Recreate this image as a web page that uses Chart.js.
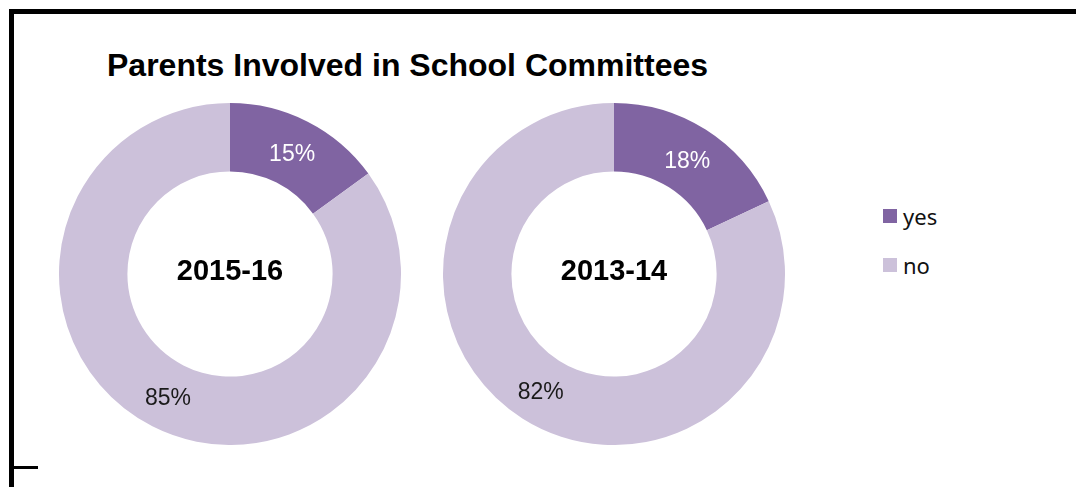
<!DOCTYPE html>
<html>
<head>
<meta charset="utf-8">
<script src="https://cdn.jsdelivr.net/npm/chart.js@4/dist/chart.umd.min.js"></script>
<style>
  html, body { margin: 0; padding: 0; background: #fff; }
  #stage { position: relative; width: 1076px; height: 487px; overflow: hidden; }
  .line { position: absolute; background: #000; }
  #title { position: absolute; left: 107px; top: 47px; font: bold 32px "Liberation Sans", Arial, sans-serif; color: #000; white-space: nowrap; }
  .donut { position: absolute; top: 103px; width: 342px; height: 342px; }
  #legend { position: absolute; left: 883px; top: 191px; font: 22px "Noto Sans", "Open Sans", sans-serif; color: #111; }
  #legend .item { display: flex; align-items: center; height: 49px; }
  #legend .sw { width: 14px; height: 14px; margin-right: 6px; }
</style>
</head>
<body>
<div id="stage">
  <div class="line" style="left:9px; top:9px; width:1067px; height:5px;"></div>
  <div class="line" style="left:9px; top:9px; width:5px; height:478px;"></div>
  <div class="line" style="left:14px; top:466px; width:24px; height:3px;"></div>
  <div id="title">Parents Involved in School Committees</div>
  <div class="donut" style="left:59px;"><canvas id="c1"></canvas></div>
  <div class="donut" style="left:443px;"><canvas id="c2"></canvas></div>
  <div id="legend"></div>
</div>
<script>
const categories = ['yes', 'no'];
const colors = ['#8064A2', '#CCC1DA'];
const labelColors = ['#ffffff', '#1a1a1a'];
const years = ['2015-16', '2013-14'];
const values2015 = [15, 85];
const values2013 = [18, 82];

// draws the year in the hole and the % on each slice
const donutText = {
  id: 'donutText',
  afterDatasetsDraw(chart, args, opts) {
    const ctx = chart.ctx;
    const meta = chart.getDatasetMeta(0);
    const ds = chart.data.datasets[0];
    ctx.save();
    ctx.textAlign = 'center';
    ctx.textBaseline = 'middle';
    ctx.font = '23px "Liberation Sans", Arial, sans-serif';
    meta.data.forEach((arc, i) => {
      const p = arc.tooltipPosition();
      ctx.fillStyle = labelColors[i];
      ctx.fillText(ds.data[i] + '%', p.x, p.y + 3);
    });
    const c = meta.data[0];
    ctx.fillStyle = '#000';
    ctx.font = 'bold 29px "Liberation Sans", Arial, sans-serif';
    ctx.fillText(opts.text, c.x, c.y - 2);
    ctx.restore();
  }
};

function makeDonut(canvasId, values, year) {
  return new Chart(document.getElementById(canvasId).getContext('2d'), {
    type: 'doughnut',
    data: {
      labels: categories,
      datasets: [{ data: values, backgroundColor: colors, borderWidth: 0 }]
    },
    options: {
      responsive: true,
      maintainAspectRatio: false,
      animation: false,
      cutout: '60%',
      layout: { padding: 0 },
      plugins: {
        legend: { display: false },
        tooltip: { enabled: false },
        donutText: { text: year }
      }
    },
    plugins: [donutText]
  });
}

makeDonut('c1', values2015, years[0]);
makeDonut('c2', values2013, years[1]);

const legendEl = document.getElementById('legend');
categories.forEach((name, i) => {
  const item = document.createElement('div');
  item.className = 'item';
  item.innerHTML = `<span class="sw" style="background:${colors[i]}"></span><span>${name}</span>`;
  legendEl.appendChild(item);
});
</script>
</body>
</html>
